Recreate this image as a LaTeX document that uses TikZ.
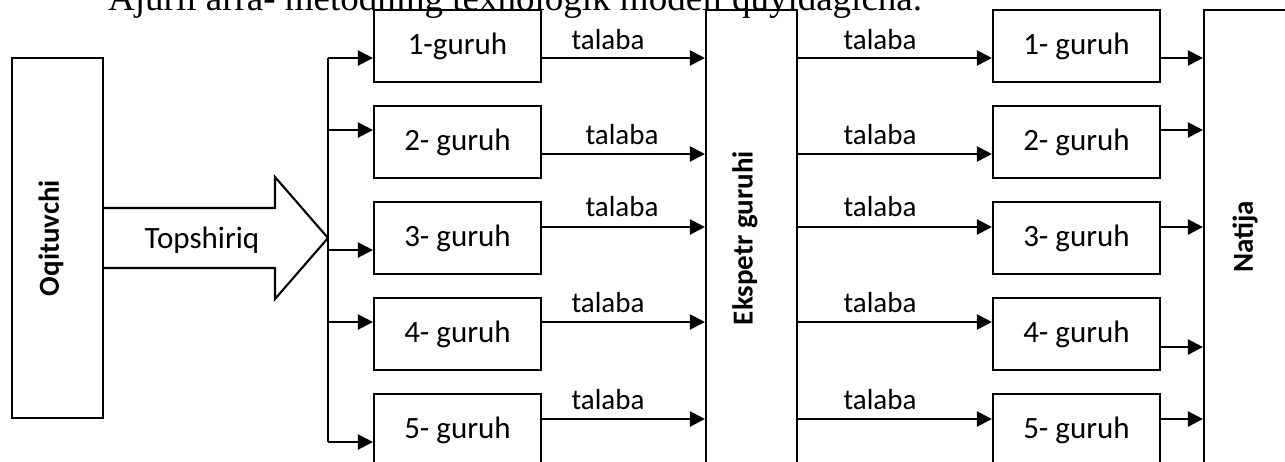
\documentclass[tikz,border=0pt]{standalone}
\usepackage{fontspec}
\setmainfont{Carlito}
\newfontfamily\titlefont{Liberation Serif}
\usetikzlibrary{arrows.meta}
\tikzset{
  ln/.style={line width=2.1pt},
  arr/.style={ln,-{Triangle[length=15pt,width=15pt]}},
  grp/.style={draw,ln,minimum width=167pt,minimum height=72pt,inner sep=0pt,font=\fontsize{31}{36}\selectfont},
  tall/.style={draw,ln,inner sep=0pt},
  vlab/.style={rotate=90,inner sep=0pt,font=\fontsize{29}{34}\selectfont\bfseries},
  tlab/.style={inner sep=0pt,font=\fontsize{29}{34}\selectfont},
}
\begin{document}
\begin{tikzpicture}[x=1pt,y=-1pt]
\useasboundingbox (0,0) rectangle (1285,461);
\clip (0,0) rectangle (1285,461);
\fill[white] (0,0) rectangle (1285,461);
% title (clipped at top, as in the reference)
\node[anchor=base west,inner sep=0pt,font=\titlefont\fontsize{37}{40}\selectfont] (title) at (108,10) {Ajurli arra- metodning texnologik modeli quyidagicha.};
% tall boxes
\node[tall,minimum width=91pt,minimum height=360pt] (O) at (57.5,238) {};
\node[vlab] (Olab) at (51,238) {Oqituvchi};
\node[tall,minimum width=91pt,minimum height=470pt] (E) at (751.5,245) {};
\node[vlab] (Elab) at (745,238) {Ekspetr guruhi};
\node[tall,minimum width=100pt,minimum height=470pt] (N) at (1254,245) {};
\node[vlab] (Nlab) at (1245,237) {Natija};
% big arrow
\draw[ln,line join=miter] (O.east |- 0,208) -- (275,208) -- (275,177) -- (328,238) -- (275,299) -- (275,268) -- (O.east |- 0,268);
\node[tlab,font=\fontsize{31}{36}\selectfont] (task) at (202,240) {Topshiriq};
% groups
\foreach \i/\y in {1/46,2/142,3/238,4/334,5/430}{
  \node[grp] (g\i) at (457.5,\y) {};
  \node[grp] (h\i) at (1076.5,\y) {};
}
\node[inner sep=0pt,font=\fontsize{31}{36}\selectfont] at (g1) {1-guruh};
\foreach \i in {2,3,4,5}{\node[inner sep=0pt,font=\fontsize{31}{36}\selectfont] at (g\i) {\i- guruh};}
\foreach \i in {1,2,3,4,5}{\node[inner sep=0pt,font=\fontsize{31}{36}\selectfont] at (h\i) {\i- guruh};}
% bus
\coordinate (b1) at (328,58);
\coordinate (b2) at (328,130);
\coordinate (b3) at (328,250);
\coordinate (b4) at (328,322);
\coordinate (b5) at (328,442);
\draw[ln] (b1) -- (b5);
\foreach \i in {1,...,5}{\draw[arr] (b\i) -- (b\i -| g\i.west);}
% rows
\foreach \i/\y in {1/58,2/154,3/227,4/322,5/419}{
  \coordinate (r\i) at (0,\y);
  \draw[arr] (g\i.east |- r\i) -- (E.west |- r\i);
  \draw[arr] (E.east |- r\i) -- (h\i.west |- r\i);
}
\foreach \i/\y in {1/58,2/130,3/227,4/347,5/419}{
  \coordinate (o\i) at (0,\y);
  \draw[arr] (h\i.east |- o\i) -- (N.west |- o\i);
}
% talaba labels
\foreach \i/\x/\y in {1/608/40,2/622/135,3/622/207,4/608/303,5/608/400}{
  \node[tlab] (tl\i) at (\x,\y) {talaba};
  \node[tlab] (tr\i) at (880,\y) {talaba};
}
\end{tikzpicture}
\end{document}
